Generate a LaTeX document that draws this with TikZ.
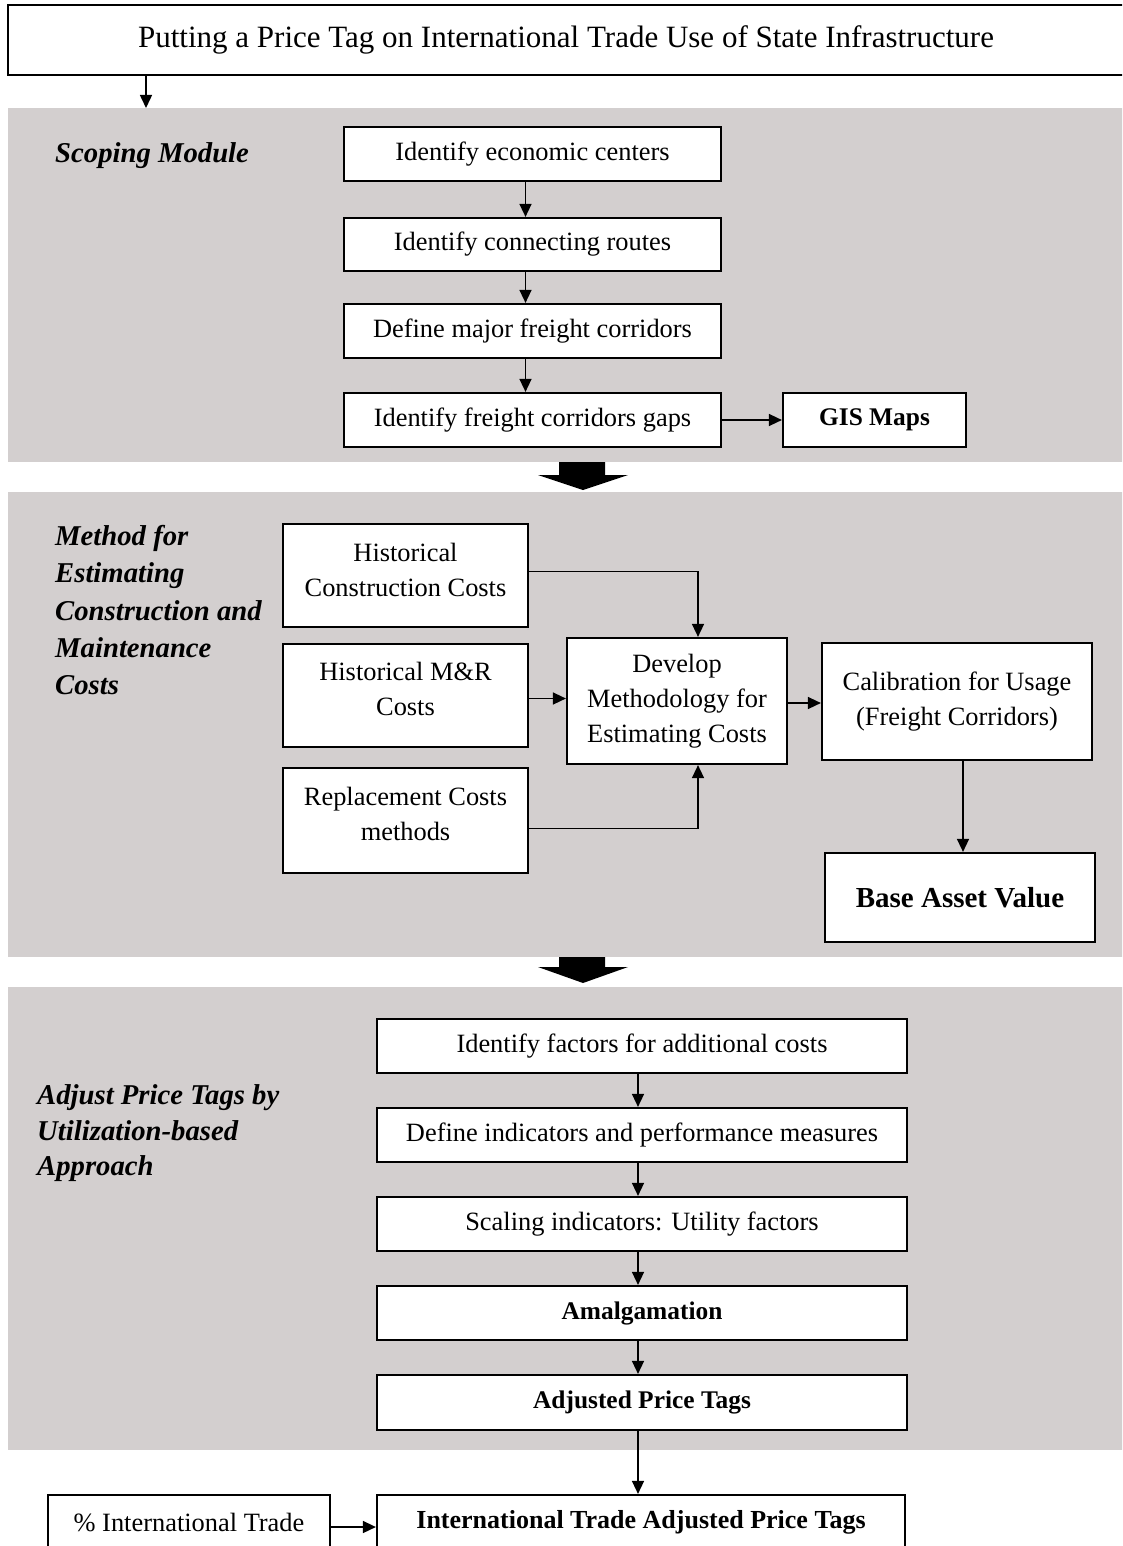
\documentclass[tikz,border=0pt]{standalone}
\usepackage{fontspec}
\setmainfont{Liberation Serif}
\usetikzlibrary{arrows.meta}
\definecolor{panelgray}{RGB}{211,207,207}
\tikzset{
  box/.style={draw=black, line width=2.2pt, fill=white, align=center, inner sep=0pt,
    font=\fontsize{26.4}{35}\selectfont},
  boldbox/.style={box, font=\fontsize{25.4}{33}\selectfont\bfseries},
  panel/.style={fill=panelgray, draw=none},
  plabel/.style={anchor=base west, inner sep=0pt, font=\fontsize{28.7}{36}\selectfont\bfseries\itshape},
  arr/.style={draw=black, line width=1.5pt, -{Triangle[length=13pt,width=12pt]}},
  bigarrow/.style={fill=black, draw=none}
}
\begin{document}
\begin{tikzpicture}[x=1pt,y=-1pt]
\useasboundingbox (0,0) rectangle (1122,1546);
\clip (0,0) rectangle (1122,1546);
% panels
\fill[panel] (8,108) rectangle (1130,462);
\fill[panel] (8,492) rectangle (1130,957);
\fill[panel] (8,987) rectangle (1130,1450);
% title
\node[box, minimum width=1122pt, minimum height=70pt, font=\fontsize{31}{35}\selectfont] (title) at (569,40) {Putting a Price Tag on International Trade Use of State Infrastructure\hspace*{6pt}};
\coordinate (p1top) at (146,108);
\draw[arr] (title.south -| p1top) -- (p1top);
% scoping module
\node[plabel] (lab1) at (55,163) {Scoping Module};
\node[box, minimum width=377pt, minimum height=54pt] (e1) at (532.5,154) {Identify economic centers};
\node[box, minimum width=377pt, minimum height=53pt] (e2) at (532.5,244.5) {Identify connecting routes};
\node[box, minimum width=377pt, minimum height=54pt] (e3) at (532.5,331) {Define major freight corridors};
\node[box, minimum width=377pt, minimum height=54pt] (e4) at (532.5,420) {Identify freight corridors gaps};
\node[boldbox, minimum width=183pt, minimum height=54pt] (gis) at (874.5,420) {GIS Maps};
\draw[arr] ([xshift=-7pt]e1.south) -- ([xshift=-7pt]e2.north);
\draw[arr] ([xshift=-7pt]e2.south) -- ([xshift=-7pt]e3.north);
\draw[arr] ([xshift=-7pt]e3.south) -- ([xshift=-7pt]e4.north);
\draw[arr] (e4.east) -- (e4.east -| gis.west);
% big arrow 1
\fill[bigarrow] (559,462) -- (605,462) -- (605,475) -- (628,475) -- (583,490) -- (538,475) -- (559,475) -- cycle;
% panel 2
\node[plabel] (lab2a) at (55,545) {Method for};
\node[plabel] (lab2b) at (55,582) {Estimating};
\node[plabel] (lab2c) at (55,620) {Construction and};
\node[plabel] (lab2d) at (55,657) {Maintenance};
\node[plabel] (lab2e) at (55,694) {Costs};
\node[box, minimum width=245pt, minimum height=103pt, text depth=12pt] (hcc) at (405.5,575.5) {Historical\\Construction Costs};
\node[box, minimum width=245pt, minimum height=103pt, text depth=14pt] (hmr) at (405.5,695.5) {Historical M\&R\\Costs};
\node[box, minimum width=245pt, minimum height=105pt, text depth=14pt] (rep) at (405.5,820.5) {Replacement Costs\\methods};
\node[box, minimum width=220pt, minimum height=126pt] (dev) at (677,701) {Develop\\Methodology for\\Estimating Costs};
\node[box, minimum width=270pt, minimum height=117pt] (cal) at (957,701.5) {Calibration for Usage\\(Freight Corridors)};
\node[boldbox, minimum width=270pt, minimum height=89pt, font=\fontsize{29}{33}\selectfont\bfseries] (base) at (960,897.5) {Base Asset Value};
\draw[arr] ([yshift=4pt]hcc.east) -| ([xshift=21pt]dev.north);
\draw[arr] ([yshift=-3pt]hmr.east) -- ([yshift=-3pt]hmr.east -| dev.west);
\draw[arr] ([yshift=-8pt]rep.east) -| ([xshift=21pt]dev.south);
\draw[arr] ([yshift=-2pt]dev.east) -- ([yshift=-2pt]dev.east -| cal.west);
\draw[arr] ([xshift=6pt]cal.south) -- ([xshift=6pt]cal.south |- base.north);
% big arrow 2
\fill[bigarrow] (559,957) -- (605,957) -- (605,967) -- (628,967) -- (583,983) -- (538,967) -- (559,967) -- cycle;
% panel 3
\node[plabel] (lab3a) at (37,1104) {Adjust Price Tags by};
\node[plabel] (lab3b) at (37,1140) {Utilization-based};
\node[plabel] (lab3c) at (37,1175) {Approach};
\node[box, minimum width=530pt, minimum height=54pt] (f1) at (642,1046) {Identify factors for additional costs};
\node[box, minimum width=530pt, minimum height=54pt] (f2) at (642,1135) {Define indicators and performance measures};
\node[box, minimum width=530pt, minimum height=54pt] (f3) at (642,1224) {Scaling indicators: Utility factors};
\node[boldbox, minimum width=530pt, minimum height=54pt] (f4) at (642,1313) {Amalgamation};
\node[boldbox, minimum width=530pt, minimum height=55pt] (f5) at (642,1402.5) {Adjusted Price Tags};
\draw[arr] ([xshift=-4pt]f1.south) -- ([xshift=-4pt]f2.north);
\draw[arr] ([xshift=-4pt]f2.south) -- ([xshift=-4pt]f3.north);
\draw[arr] ([xshift=-4pt]f3.south) -- ([xshift=-4pt]f4.north);
\draw[arr] ([xshift=-4pt]f4.south) -- ([xshift=-4pt]f5.north);
% bottom
\node[box, minimum width=282pt, minimum height=54pt] (itr) at (189,1522) {\% International Trade};
\node[boldbox, minimum width=528pt, minimum height=54pt, font=\fontsize{26}{33}\selectfont\bfseries] (iat) at (641,1522) {International Trade Adjusted Price Tags};
\draw[arr] ([xshift=-4pt]f5.south) -- ([xshift=-3pt]iat.north);
\draw[arr] ([yshift=-5pt]itr.east) -- ([yshift=-5pt]itr.east -| iat.west);
\end{tikzpicture}
\end{document}
